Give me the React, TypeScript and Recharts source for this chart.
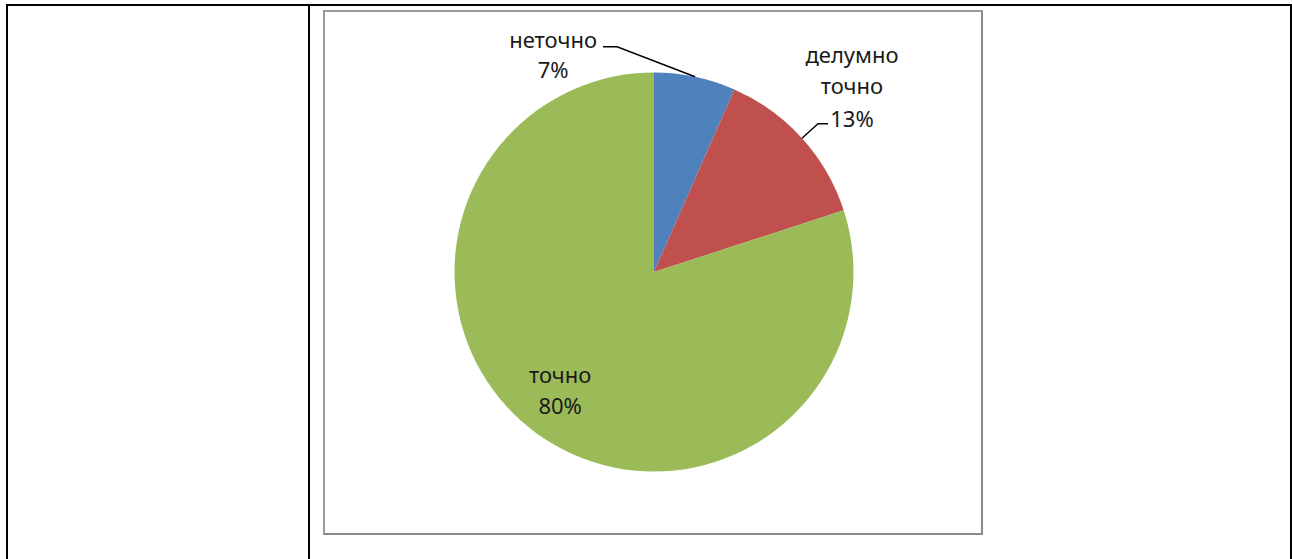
import { PieChart, Pie, Cell } from "recharts";

// ─────────────────────────────────────────────────────────────────────────────
// Data
// ─────────────────────────────────────────────────────────────────────────────

const categories = ["неточно", "делумно точно", "точно"];
const shares     = [6.6, 13.4, 80.0];
const colors     = ["#4F81BD", "#C0504D", "#9BBB59"];

const data = categories.map((name, i) => ({ name, value: shares[i] }));

// ─────────────────────────────────────────────────────────────────────────────
// Label layout (offsets from the slice's mid-arc point)
// ─────────────────────────────────────────────────────────────────────────────

interface LabelLayout {
  inside:   boolean;
  wrap:     boolean;
  factor?:  number;           // inside: fraction of radius along mid angle
  elbow?:   [number, number]; // outside: leader bend
  end?:     number;           // outside: leader horizontal end (dx)
  tx:       number;
  lines:    number[];         // baseline dy per text line
}

const LAYOUT: LabelLayout[] = [
  { inside: false, wrap: false, elbow: [-78, -30], end: -92, tx: -142, lines: [-29, 1] },
  { inside: false, wrap: true,  elbow: [16, -14.5], end: 26, tx: 50,  lines: [-75.5, -44.5, -11.5] },
  { inside: true,  wrap: false, factor: 0.8, tx: 0, lines: [-18, 13] },
];

const RADIAN = Math.PI / 180;
const FONT   = "'Noto Sans', 'Open Sans', sans-serif";

function renderLabel(props: any) {
  const { cx, cy, midAngle, outerRadius, percent, index, name } = props;
  const lay = LAYOUT[index];
  const cos = Math.cos(-midAngle * RADIAN);
  const sin = Math.sin(-midAngle * RADIAN);
  const r   = lay.inside ? outerRadius * (lay.factor ?? 0.5) : outerRadius;
  const px  = cx + r * cos;
  const py  = cy + r * sin;

  const texts = [...(lay.wrap ? String(name).split(" ") : [String(name)]), `${Math.round(percent * 100)}%`];

  return (
    <g key={`lbl-${index}`}>
      {!lay.inside && lay.elbow && (
        <polyline
          points={`${px},${py} ${px + lay.elbow[0]},${py + lay.elbow[1]} ${px + (lay.end ?? 0)},${py + lay.elbow[1]}`}
          fill="none"
          stroke="#000"
          strokeWidth={1.4}
        />
      )}
      {texts.map((t, i) => (
        <text
          key={i}
          x={px + lay.tx}
          y={py + lay.lines[i]}
          textAnchor="middle"
          fill="#1a1a1a"
          fontSize={22}
          fontFamily={FONT}
        >
          {t}
        </text>
      ))}
    </g>
  );
}

// ─────────────────────────────────────────────────────────────────────────────
// Page
// ─────────────────────────────────────────────────────────────────────────────

const line = (style: React.CSSProperties) => (
  <div style={{ position: "absolute", background: "#000", ...style }} />
);

export default function App() {
  return (
    <div
      style={{
        position: "absolute", left: 0, top: 0,
        width: 1292, height: 559, background: "#fff", overflow: "hidden",
      }}
    >
      {line({ left: 6, top: 4, width: 1286, height: 2 })}
      {line({ left: 6, top: 4, width: 2, height: 555 })}
      {line({ left: 308, top: 4, width: 2, height: 555 })}
      {line({ left: 1290, top: 4, width: 2, height: 555 })}

      <div
        style={{
          position: "absolute", left: 323, top: 10,
          width: 660, height: 525, boxSizing: "border-box",
          borderTop: "2px solid #9a9a9a", borderLeft: "2px solid #9a9a9a",
          borderRight: "2px solid #8a8a8a", borderBottom: "2px solid #8a8a8a",
        }}
      >
        <PieChart width={656} height={521} margin={{ top: 0, right: 0, bottom: 0, left: 0 }}>
          <Pie
            data={data}
            dataKey="value"
            nameKey="name"
            cx={329}
            cy={260}
            outerRadius={199.5}
            startAngle={90}
            endAngle={-270}
            stroke="none"
            labelLine={false}
            label={renderLabel}
            isAnimationActive={false}
          >
            {data.map((_, i) => (
              <Cell key={i} fill={colors[i]} />
            ))}
          </Pie>
        </PieChart>
      </div>
    </div>
  );
}
